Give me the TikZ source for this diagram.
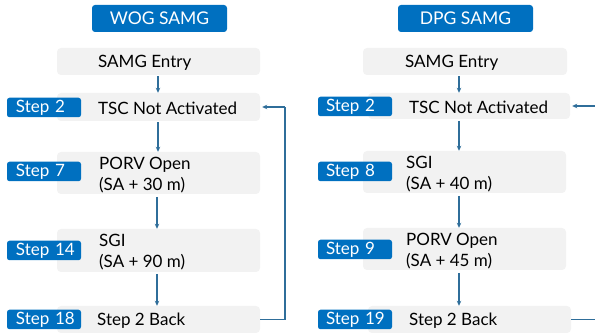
\documentclass[tikz,border=0pt]{standalone}
\usepackage{fontspec}
\setmainfont{Lato}
\usetikzlibrary{arrows.meta}
\definecolor{lblue}{HTML}{0070C0}
\definecolor{abox}{HTML}{F2F2F2}
\definecolor{aline}{HTML}{2F6E9A}
\tikzset{
  titlebox/.style={fill=lblue, rounded corners=3pt, text=white, font=\fontsize{17.5}{20}\selectfont, inner sep=0pt},
  graybox/.style={fill=abox, rounded corners=4pt, inner sep=0pt},
  boxtext/.style={anchor=west, align=left, inner sep=0pt, font=\fontsize{17}{21}\selectfont},
  steplabel/.style={fill=lblue, rounded corners=2.5pt, text=white, text width=74pt, align=left, minimum height=19.5pt, inner sep=0pt, font=\fontsize{17}{20}\selectfont},
  flow/.style={draw=aline, line width=1.1pt, -{Stealth[length=5pt,width=4.5pt]}},
  loopline/.style={draw=aline, line width=1.1pt},
}
\begin{document}
\begin{tikzpicture}[x=1pt,y=-1pt]
\useasboundingbox (0,0) rectangle (595,336);
\clip (0,0) rectangle (595,336);
% ---------- Left: WOG SAMG ----------
\node[titlebox, minimum width=135pt, minimum height=27pt] (wt) at (159.5,18.5) {WOG SAMG};
\node[graybox, minimum width=203pt, minimum height=27pt] (we) at (158.5,61.5) {};
\node[graybox, minimum width=203pt, minimum height=28pt] (w2) at (158.5,107) {};
\node[graybox, minimum width=203pt, minimum height=42pt] (w7) at (158.5,173) {};
\node[graybox, minimum width=203pt, minimum height=43pt] (w14) at (158.5,250.5) {};
\node[graybox, minimum width=203pt, minimum height=27pt] (w18) at (158.5,319.5) {};
\node[boxtext] (wet) at (98,63) {SAMG Entry};
\node[boxtext] (w2t) at (98,108.5) {TSC Not Activated};
\node[boxtext] (w7t) at (99,175) {PORV Open\\(SA + 30 m)};
\node[boxtext] (w14t) at (99,252.5) {SGI\\(SA + 90 m)};
\node[boxtext] (w18t) at (97,321) {Step 2 Back};
\node[steplabel] (ws2) at (44,107.5) {\hspace*{9pt}Step 2};
\node[steplabel] (ws7) at (44,171.5) {\hspace*{9pt}Step 7};
\node[steplabel] (ws14) at (44,250.5) {\hspace*{9pt}Step 14};
\node[steplabel] (ws18) at (44,319.5) {\hspace*{9pt}Step 18};
\draw[flow] (158,76.5) -- (w2.north -| 158,0);
\draw[flow] (158,122.5) -- (w7.north -| 158,0);
\draw[flow] (157,197) -- (w14.north -| 157,0);
\draw[flow] (157,274) -- (w18.north -| 157,0);
\coordinate (wc1) at (285,319.5);
\coordinate (wc2) at (285,107);
\draw[loopline] (w18.east) -- (wc1) -- (wc2);
\draw[flow] (wc2) -- ([xshift=2pt]w2.east);
% ---------- Right: DPG SAMG ----------
\node[titlebox, minimum width=135pt, minimum height=27pt] (dt) at (465.5,18.5) {DPG SAMG};
\node[graybox, minimum width=204pt, minimum height=27pt] (de) at (465,61.5) {};
\node[graybox, minimum width=202pt, minimum height=26pt] (d2) at (469,106) {};
\node[graybox, minimum width=203pt, minimum height=42pt] (d8) at (464.5,172) {};
\node[graybox, minimum width=203pt, minimum height=42pt] (d9) at (464.5,249) {};
\node[graybox, minimum width=203pt, minimum height=27pt] (d19) at (469.5,319.5) {};
\node[boxtext] (det) at (405,63) {SAMG Entry};
\node[boxtext] (d2t) at (409,107.5) {TSC Not Activated};
\node[boxtext] (d8t) at (406,174) {SGI\\(SA + 40 m)};
\node[boxtext] (d9t) at (406,251) {PORV Open\\(SA + 45 m)};
\node[boxtext] (d19t) at (409,321) {Step 2 Back};
\node[steplabel] (ds2) at (355,106.5) {\hspace*{8pt}Step 2};
\node[steplabel] (ds8) at (355,171.5) {\hspace*{8pt}Step 8};
\node[steplabel] (ds9) at (355,249.5) {\hspace*{8pt}Step 9};
\node[steplabel] (ds19) at (355,319.5) {\hspace*{8pt}Step 19};
\draw[flow] (459,76.5) -- (d2.north -| 459,0);
\draw[flow] (459,121) -- (d8.north -| 459,0);
\draw[flow] (459,196) -- (d9.north -| 459,0);
\draw[flow] (459,273) -- (d19.north -| 459,0);
\coordinate (dc1) at (600,319.5);
\coordinate (dc2) at (600,106);
\draw[loopline] (d19.east) -- (dc1) -- (dc2);
\draw[flow] (dc2) -- ([xshift=2pt]d2.east);
\end{tikzpicture}
\end{document}
